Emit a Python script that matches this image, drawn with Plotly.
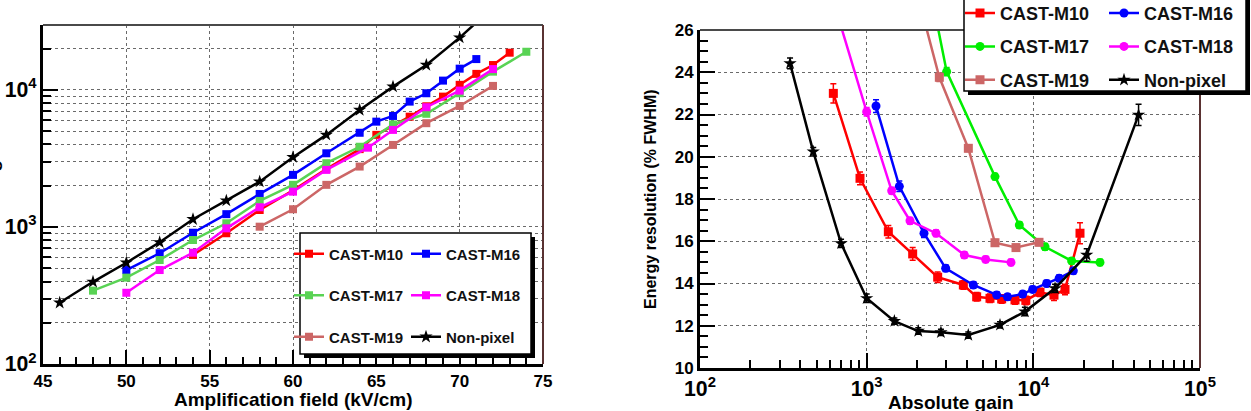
import plotly.graph_objects as go

# ---------------- Left panel: gain vs amplification field ----------------
m10_field = [54, 56, 58, 60, 62, 64, 65, 67, 68, 69, 70, 71, 72, 73]
m10_gain = [625, 900, 1330, 1850, 2650, 3700, 4700, 6380, 7600, 8940, 10900, 13100, 15200, 18700]

m16_field = [50, 52, 54, 56, 58, 60, 62, 64, 65, 66, 67, 68, 69, 70, 71]
m16_gain = [485, 643, 908, 1240, 1742, 2400, 3450, 4870, 5870, 6460, 8220, 9460, 11700, 14300, 16800]

m17_field = [48, 50, 52, 54, 56, 58, 60, 62, 64, 66, 68, 70, 72, 74]
m17_gain = [343, 427, 574, 803, 1064, 1549, 2030, 2920, 3850, 5600, 6700, 9460, 13600, 19000]

m18_field = [50, 52, 54, 56, 58, 60, 62, 64.5, 66, 68, 70, 72]
m18_gain = [331, 485, 649, 977, 1393, 1810, 2610, 3790, 5110, 7480, 9890, 14200]

m19_field = [58, 60, 62, 64, 66, 68, 70, 72]
m19_gain = [1005, 1347, 2030, 2760, 3970, 5720, 7640, 10700]

np_field = [46, 48, 50, 52, 54, 56, 58, 60, 62, 64, 66, 68, 70, 72]
np_gain = [280, 398, 548, 773, 1138, 1556, 2142, 3230, 4700, 7140, 10570, 15200, 24100, 40000]

# ---------------- Right panel: energy resolution vs absolute gain ----------------
m10_abs = [631, 912, 1349, 1888, 2667, 3802, 4571, 5495, 6457, 7762, 9016, 10965, 13305, 15488, 19055]
m10_res = [23.0, 18.98, 16.45, 15.4, 14.3, 13.93, 13.37, 13.3, 13.27, 13.22, 13.2, 13.58, 13.45, 13.72, 16.38]
m10_err = [0.45, 0.3, 0.3, 0.3, 0.25, 0.2, 0.2, 0.2, 0.2, 0.2, 0.2, 0.2, 0.25, 0.25, 0.5]

m16_abs = [1138, 1570, 2208, 2979, 4365, 6026, 6998, 8630, 9908, 12023, 14289, 17378]
m16_res = [22.4, 18.6, 16.38, 14.72, 13.93, 13.46, 13.37, 13.5, 13.72, 14.0, 14.25, 14.6]
m16_err = [0.3, 0.25, 0.2, 0.15, 0.15, 0.15, 0.15, 0.15, 0.15, 0.15, 0.15, 0.15]

m17_abs = [2512, 3020, 5888, 8241, 11749, 16982, 25119]
m17_res = [27.2, 24.03, 19.06, 16.77, 15.74, 15.07, 15.0]
m17_err = [0.2, 0.2, 0.15, 0.15, 0.15, 0.15, 0.15]

m18_abs = [630, 1000, 1413, 1820, 2606, 3855, 5176, 7345]
m18_res = [27.4, 22.13, 18.39, 16.97, 16.38, 15.35, 15.14, 15.0]
m18_err = [0.2, 0.2, 0.15, 0.15, 0.15, 0.15, 0.15, 0.15]

m19_abs = [2000, 2729, 4074, 5888, 7870, 10814]
m19_res = [27.8, 23.76, 20.4, 15.93, 15.7, 15.95]
m19_err = [0.2, 0.2, 0.15, 0.15, 0.15, 0.15]

np_abs = [347, 478, 702, 1000, 1466, 2040, 2790, 4070, 6310, 8900, 13500, 20900, 42800]
np_res = [24.42, 20.24, 15.9, 13.3, 12.22, 11.75, 11.69, 11.56, 12.04, 12.67, 13.77, 15.35, 21.98]
np_err = [0.25, 0.2, 0.2, 0.2, 0.15, 0.15, 0.15, 0.15, 0.15, 0.2, 0.2, 0.3, 0.5]

W, H = 1251, 411


def px(x):
    return x / W


def py(y):
    return 1 - y / H


FONT = "Liberation Sans, Arial, Helvetica, sans-serif"

colors = {
    "CAST-M10": "#ff0000",
    "CAST-M16": "#0000ff",
    "CAST-M17": "#59d354",
    "CAST-M18": "#ff00ff",
    "CAST-M19": "#cc6666",
    "Non-pixel": "#000000",
}
right_colors = dict(colors)
right_colors["CAST-M17"] = "#00ee00"

fig = go.Figure()

left_series = [
    ("CAST-M10", m10_field, m10_gain, "square", "legend"),
    ("CAST-M16", m16_field, m16_gain, "square", "legend2"),
    ("CAST-M17", m17_field, m17_gain, "square", "legend"),
    ("CAST-M18", m18_field, m18_gain, "square", "legend2"),
    ("CAST-M19", m19_field, m19_gain, "square", "legend"),
    ("Non-pixel", np_field, np_gain, "star", "legend2"),
]
for name, xs, ys, sym, leg in left_series:
    fig.add_trace(go.Scatter(
        x=xs, y=ys, name=name, mode="lines+markers",
        line=dict(color=colors[name], width=2.5),
        marker=dict(symbol=sym, size=10 if sym == "star" else 8, color=colors[name]),
        xaxis="x", yaxis="y", legend=leg, legendgroup="L" + name,
    ))

right_series = [
    ("CAST-M10", m10_abs, m10_res, m10_err, "square", "legend3"),
    ("CAST-M16", m16_abs, m16_res, m16_err, "circle", "legend4"),
    ("CAST-M17", m17_abs, m17_res, m17_err, "circle", "legend3"),
    ("CAST-M18", m18_abs, m18_res, m18_err, "circle", "legend4"),
    ("CAST-M19", m19_abs, m19_res, m19_err, "square", "legend3"),
    ("Non-pixel", np_abs, np_res, np_err, "star", "legend4"),
]
for name, xs, ys, es, sym, leg in right_series:
    c = right_colors[name]
    fig.add_trace(go.Scatter(
        x=xs, y=ys, name=name, mode="lines+markers",
        line=dict(color=c, width=2.5),
        marker=dict(symbol=sym, size=10 if sym == "star" else 9, color=c),
        error_y=dict(type="data", array=es, visible=True, color=c, thickness=1.5, width=3),
        xaxis="x2", yaxis="y2", legend=leg, legendgroup="R" + name,
    ))

tickfont = dict(family=FONT, size=17, color="black", weight="bold")
grid = dict(gridcolor="#6a6a6a", griddash="dot", gridwidth=1)
axline = dict(showline=True, linecolor="black", linewidth=3, mirror=False,
              ticks="inside", tickcolor="black", tickwidth=1.5, zeroline=False)

fig.update_layout(
    width=W, height=H,
    margin=dict(l=0, r=0, t=0, b=0, autoexpand=False),
    paper_bgcolor="white", plot_bgcolor="white",
    font=dict(family=FONT, color="black"),
    xaxis=dict(domain=[px(43), px(543)], range=[45, 75], dtick=5, tick0=45,
               ticklen=14, showgrid=True, tickfont=tickfont,
               minor=dict(dtick=1, ticks="inside", ticklen=7, tickcolor="black", showgrid=False),
               anchor="y", **grid, **axline),
    yaxis=dict(domain=[py(364), py(25)], type="log", range=[2, 4.474], dtick=1,
               exponentformat="power", ticklen=15, showgrid=True, tickfont=tickfont,
               minor=dict(dtick="D1", ticks="inside", ticklen=8, tickcolor="black",
                          showgrid=True, gridcolor="#6a6a6a", griddash="dot", gridwidth=1),
               anchor="x", **grid, **axline),
    xaxis2=dict(domain=[px(700), px(1200)], type="log", range=[2, 5], dtick=1,
                exponentformat="power", ticklen=15, showgrid=True, tickfont=tickfont,
                minor=dict(dtick="D1", ticks="inside", ticklen=8, tickcolor="black", showgrid=False),
                anchor="y2", **grid, **axline),
    yaxis2=dict(domain=[py(368), py(30)], range=[10, 26], dtick=2, tick0=10,
                ticklen=15, showgrid=True, tickfont=tickfont,
                minor=dict(dtick=0.5, ticks="inside", ticklen=8, tickcolor="black", showgrid=False),
                anchor="x2", **grid, **axline),
    showlegend=True,
)

leg_common_l = dict(xanchor="left", yanchor="top", bgcolor="rgba(0,0,0,0)", borderwidth=0,
                    font=dict(family=FONT, size=15, color="#111", weight="bold"),
                    tracegroupgap=19, itemclick=False, itemdoubleclick=False)
leg_common_r = dict(xanchor="left", yanchor="top", bgcolor="rgba(0,0,0,0)", borderwidth=0,
                    font=dict(family=FONT, size=18, color="#111", weight="bold"),
                    tracegroupgap=7, itemclick=False, itemdoubleclick=False)
fig.update_layout(
    legend=dict(x=px(289), y=py(237.5), **leg_common_l),
    legend2=dict(x=px(406), y=py(237.5), **leg_common_l),
    legend3=dict(x=px(960), y=py(-5.2), **leg_common_r),
    legend4=dict(x=px(1104), y=py(-5.2), **leg_common_r),
)

shapes = []
# frame: top and right edges of both panels
for xr, yr in (("x", "y"), ("x2", "y2")):
    shapes.append(dict(type="line", xref=xr + " domain", yref=yr + " domain",
                       x0=0, x1=1, y0=1, y1=1, line=dict(color="#4a4a4a", width=2)))
    shapes.append(dict(type="line", xref=xr + " domain", yref=yr + " domain",
                       x0=1, x1=1, y0=0, y1=1, line=dict(color="#5a3232", width=2)))
# legend boxes with shadow
for (x0, y0, x1, y1) in ((300, 233, 531, 354), (964, -4, 1246, 91)):
    shapes.append(dict(type="rect", xref="paper", yref="paper",
                       x0=px(x0 + 4), x1=px(x1 + 4), y0=py(y1 + 4), y1=py(y0 + 4),
                       fillcolor="black", line=dict(width=0)))
    shapes.append(dict(type="rect", xref="paper", yref="paper",
                       x0=px(x0), x1=px(x1), y0=py(y1), y1=py(y0),
                       fillcolor="white", line=dict(color="black", width=1.5)))
fig.update_layout(shapes=shapes)

title_font = dict(family=FONT, size=19, color="black", weight="bold")
fig.add_annotation(text="Amplification field (kV/cm)", xref="paper", yref="paper",
                   x=px(293), y=py(399), xanchor="center", yanchor="middle",
                   showarrow=False, font=title_font)
fig.add_annotation(text="Absolute gain", xref="paper", yref="paper",
                   x=px(951), y=py(402), xanchor="center", yanchor="middle",
                   showarrow=False, font=title_font)
fig.add_annotation(text="Absolute gain", xref="paper", yref="paper",
                   x=px(-9), y=py(195), xanchor="center", yanchor="middle", textangle=-90,
                   showarrow=False, font=title_font)
fig.add_annotation(text="Energy resolution (% FWHM)", xref="paper", yref="paper",
                   x=px(651), y=py(199), xanchor="center", yanchor="middle", textangle=-90,
                   showarrow=False, font=dict(family=FONT, size=16, color="black", weight="bold"))

fig.write_html("out.html")
